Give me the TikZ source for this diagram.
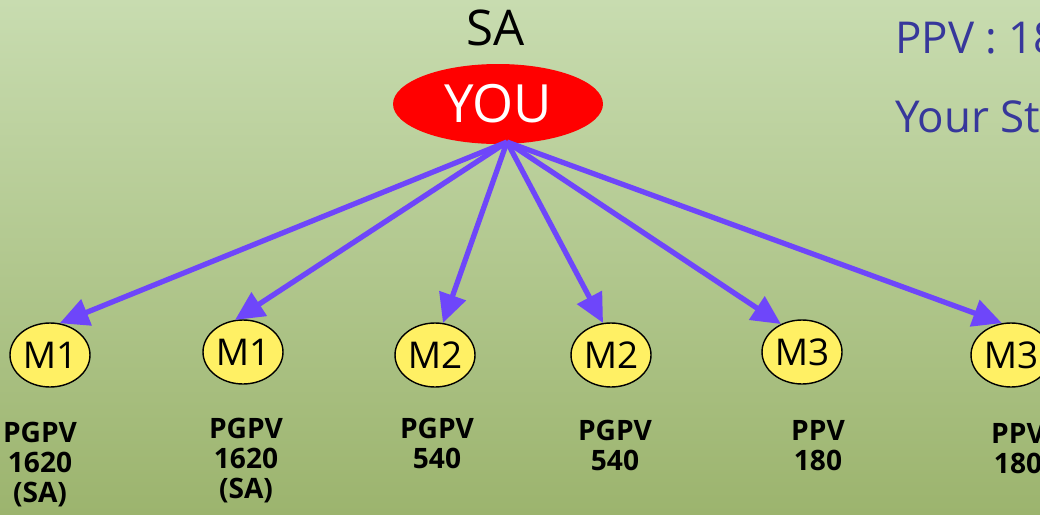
\documentclass[tikz,border=0pt]{standalone}
\usepackage{fontspec}
\setmainfont{Open Sans}
\usetikzlibrary{arrows.meta,positioning,shapes.geometric}
\definecolor{bgtop}{RGB}{200,220,176}
\definecolor{bgbottom}{RGB}{156,180,110}
\definecolor{linkpurple}{RGB}{110,70,250}
\definecolor{memberyellow}{RGB}{255,240,100}
\definecolor{infoblue}{RGB}{55,55,155}

\begin{document}
\begin{tikzpicture}[x=0.02cm,y=-0.02cm] % one unit is one pixel of the slide
\tikzset{member/.style={ellipse,draw=black,line width=0.8pt,fill=memberyellow,minimum width=1.6cm,minimum height=1.28cm,inner sep=0pt,font=\fontsize{21}{21}\selectfont}} % the yellow members
\tikzset{volume/.style={align=center,anchor=north,inner sep=0pt,font=\fontsize{16}{17}\selectfont\bfseries}} % volumes under the members
\tikzset{link/.style={draw=linkpurple,line width=3pt,-{Triangle[length=16.5pt,width=15.5pt]}}}
\useasboundingbox (0,0) rectangle (1040,514);
\clip (0,0) rectangle (1040,514);
\shade[top color=bgtop,bottom color=bgbottom] (0,0) rectangle (1040,514);
% sponsor
\node[ellipse,fill=red,minimum width=4.2cm,minimum height=1.6cm,inner sep=0pt,text=white,font=\fontsize{30}{30}\selectfont] (you) at (498,104) {YOU};
\node[anchor=base,inner sep=0pt,font=\fontsize{28}{28}\selectfont] (rank) at (496,45) {SA};
\node[anchor=base west,inner sep=0pt,text=infoblue,font=\fontsize{25}{25}\selectfont] (ppv) at (895,53) {PPV : 180};
\node[anchor=base west,inner sep=0pt,text=infoblue,font=\fontsize{25}{25}\selectfont] (status) at (895,132) {Your Status};
\coordinate (hub) at (507,142);
% downline
\node[member] (m1a) at (50,355) {M1};
\node[member] (m1b) at (243,352) {M1};
\node[member] (m2a) at (435,355) {M2};
\node[member] (m2b) at (611,355) {M2};
\node[member] (m3a) at (802,352) {M3};
\node[member] (m3b) at (1011,355) {M3};
\node[volume] (v1a) at (40,422) {PGPV\\1620\\(SA)};
\node[volume] (v1b) at (246,418) {PGPV\\1620\\(SA)};
\node[volume] (v2a) at (437,418) {PGPV\\540};
\node[volume] (v2b) at (615,420) {PGPV\\540};
\node[volume] (v3a) at (818,420) {PPV\\180};
\node[volume] (v3b) at (1018,423) {PPV\\180};
\draw[link] (hub) -- (m1a.73);
\draw[link] (hub) -- (m1b.104);
\draw[link] (hub) -- (m2a.76);
\draw[link] (hub) -- (m2b.104);
\draw[link] (hub) -- (m3a.127);
\draw[link] (hub) -- (m3b.106);
\end{tikzpicture}
\end{document}
